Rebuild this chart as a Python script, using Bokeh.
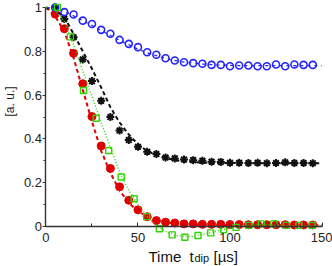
import math
from bokeh.plotting import figure
from bokeh.models import Range1d, FixedTicker, CustomJSTickFormatter, Label
from bokeh.embed import file_html
from bokeh.resources import INLINE

# ---- data ----
t = [5, 10, 15, 20, 25, 30, 35, 40, 45, 50, 55, 60, 65, 70, 75, 80, 85, 90, 95,
     100, 105, 110, 115, 120, 125, 130, 135, 140, 145]
blue_y = [1.0, 0.979, 0.968, 0.94, 0.925, 0.898, 0.88, 0.852, 0.834, 0.819, 0.796,
          0.784, 0.768, 0.758, 0.750, 0.746, 0.743, 0.738, 0.738, 0.732, 0.735,
          0.735, 0.732, 0.732, 0.740, 0.732, 0.740, 0.738, 0.738]
black_y = [1.0, 0.948, 0.864, 0.763, 0.664, 0.574, 0.50, 0.438, 0.395, 0.364, 0.341,
           0.331, 0.315, 0.311, 0.306, 0.303, 0.300, 0.296, 0.295, 0.291, 0.291,
           0.290, 0.291, 0.289, 0.290, 0.293, 0.290, 0.290, 0.289]
red_y = [0.97, 0.903, 0.791, 0.652, 0.502, 0.368, 0.265, 0.181, 0.12, 0.076, 0.045,
         0.027, 0.020, 0.016, 0.012, 0.012, 0.010, 0.010, 0.010, 0.009, 0.009,
         0.008, 0.008, 0.008, 0.008, 0.008, 0.007, 0.007, 0.007]
green_t = [6.2, 13.3, 20.4, 27.3, 34.1, 40.9, 47.9, 54.7, 61.6, 68.6, 75.5, 82.6,
           89.5, 96.5, 103.3, 110.3, 117.0, 123.8, 130.6, 137.4, 144.6]
green_y = [1.0, 0.866, 0.621, 0.494, 0.347, 0.226, 0.127, 0.045, -0.010, -0.038,
           -0.049, -0.041, -0.029, -0.014, -0.004, 0.005, 0.012, 0.012, 0.005,
           0.005, 0.005]

fit_t = [0, 5, 10, 15, 20, 25, 30, 35, 40, 45, 50, 55, 60, 65, 70, 75, 80, 85, 90,
         95, 100, 105, 110, 115, 120, 125, 130, 135, 140, 145, 150]
blue_fit = [1.0, 0.995, 0.982, 0.962, 0.94, 0.918, 0.895, 0.872, 0.85, 0.83, 0.81,
            0.793, 0.78, 0.768, 0.758, 0.751, 0.746, 0.742, 0.739, 0.737, 0.736,
            0.735, 0.735, 0.735, 0.735, 0.735, 0.735, 0.735, 0.735, 0.735, 0.735]
black_fit = [1.0, 0.99, 0.955, 0.88, 0.80, 0.72, 0.635, 0.545, 0.475, 0.42, 0.375,
             0.345, 0.325, 0.312, 0.303, 0.297, 0.294, 0.292, 0.291, 0.290, 0.290,
             0.289, 0.289, 0.289, 0.289, 0.289, 0.289, 0.289, 0.289, 0.289, 0.289]
red_fit = [1.0, 0.96, 0.89, 0.77, 0.625, 0.48, 0.345, 0.245, 0.165, 0.108, 0.07,
           0.045, 0.028, 0.019, 0.014, 0.011, 0.009, 0.008, 0.007, 0.007, 0.006,
           0.006, 0.006, 0.006, 0.006, 0.006, 0.006, 0.006, 0.006, 0.006, 0.006]
green_fit = [1.0, 0.99, 0.935, 0.83, 0.71, 0.595, 0.475, 0.36, 0.25, 0.165, 0.10,
             0.045, 0.005, -0.022, -0.04, -0.046, -0.044, -0.036, -0.027, -0.017,
             -0.008, 0.0, 0.005, 0.008, 0.008, 0.006, 0.004, 0.003, 0.003, 0.003, 0.003]

x_ticks = [0, 50, 100, 150]
x_minor = [25, 75, 125]
y_ticks = [0, 0.2, 0.4, 0.6, 0.8, 1.0]
y_minor = [0.1, 0.3, 0.5, 0.7, 0.9]

FONT = "Liberation Sans"
BLUE = "#2424ff"
RED = "#e00000"
GREEN = "#2fd400"
BLACK = "#111111"
AXIS = "#333333"

# the frame fills the whole canvas; the axes sit at x=0 / y=0
p = figure(width=332, height=266, output_backend="svg", toolbar_location=None,
           x_range=Range1d(-24.7, 155.7), y_range=Range1d(-0.1826, 1.032),
           min_border_left=0, min_border_right=0, min_border_top=0,
           min_border_bottom=0)
p.outline_line_color = None
p.xgrid.visible = False
p.ygrid.visible = False
p.background_fill_color = "white"

# data + fits
p.scatter(t, red_y, marker="circle", size=8, fill_color=RED, line_color=RED)
p.line(fit_t, red_fit, line_color=RED, line_width=2, line_dash="4 3")
p.scatter(t, black_y, marker="asterisk", size=8, line_color=BLACK, line_width=2)
p.line(fit_t, black_fit, line_color=BLACK, line_width=2, line_dash="4 3")
p.scatter(t, blue_y, marker="circle", size=7, fill_color=None, line_color=BLUE,
          line_width=1.6)
p.line(fit_t, blue_fit, line_color=BLUE, line_width=1.3, line_dash="3 4")
p.scatter(green_t, green_y, marker="square", size=6, fill_color=None,
          line_color=GREEN, line_width=1.4)
p.line(fit_t, green_fit, line_color=GREEN, line_width=1.5, line_dash="1 2")

# axes
xa = p.xaxis[0]
xa.fixed_location = 0
xa.bounds = (0, 150)
xa.ticker = FixedTicker(ticks=x_ticks, minor_ticks=x_minor)
xa.major_tick_in = 4
xa.major_tick_out = 0
xa.minor_tick_in = 3
xa.minor_tick_out = 0
xa.axis_line_width = 1.4
xa.axis_line_color = AXIS
xa.major_tick_line_color = AXIS
xa.minor_tick_line_color = AXIS
xa.major_label_text_font = FONT
xa.major_label_text_font_size = "13px"
xa.major_label_text_color = "#222222"
xa.major_label_standoff = 6

ya = p.yaxis[0]
ya.fixed_location = 0
ya.bounds = (0, 1)
ya.ticker = FixedTicker(ticks=y_ticks, minor_ticks=y_minor)
ya.formatter = CustomJSTickFormatter(code="return String(Math.round(tick*10)/10)")
ya.major_tick_in = 0
ya.major_tick_out = 3
ya.minor_tick_in = 0
ya.minor_tick_out = 2
ya.axis_line_width = 1.4
ya.axis_line_color = AXIS
ya.major_tick_line_color = AXIS
ya.minor_tick_line_color = AXIS
ya.major_label_text_font = FONT
ya.major_label_text_font_size = "13px"
ya.major_label_text_color = "#222222"
ya.major_label_standoff = 1

# axis titles
p.add_layout(Label(x=-19.8, y=0.571, text="[a. u.]", angle=math.pi / 2,
                   text_align="center", text_baseline="middle",
                   text_font=FONT, text_font_size="12px", text_color="#222222"))
ty = -0.135
tx = 55.7
p.add_layout(Label(x=tx, y=ty, text="Time\u00a0 t", text_align="left",
                   text_baseline="alphabetic", text_font=FONT,
                   text_font_size="15px", text_color="#111111"))
p.add_layout(Label(x=tx, y=ty, x_offset=46, y_offset=-2, text="dip",
                   text_align="left", text_baseline="alphabetic", text_font=FONT,
                   text_font_size="11px", text_color="#111111"))
p.add_layout(Label(x=tx, y=ty, x_offset=65, text="[µs]", text_align="left",
                   text_baseline="alphabetic", text_font=FONT,
                   text_font_size="15px", text_color="#111111"))

open("out.html", "w").write(file_html(p, INLINE))
